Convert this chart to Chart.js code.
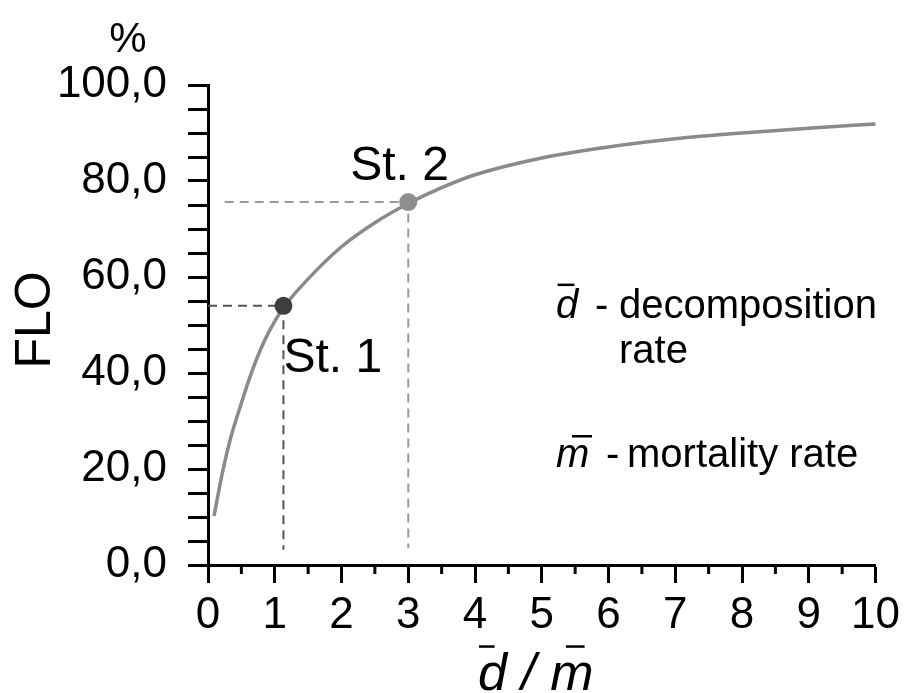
<!DOCTYPE html>
<html>
<head>
<meta charset="utf-8">
<script src="https://cdn.jsdelivr.net/npm/chart.js@4.4.1/dist/chart.umd.min.js"></script>
<style>
  html, body { margin: 0; padding: 0; background: #fff; }
  #wrap { width: 906px; height: 693px; }
</style>
</head>
<body>
<div id="wrap"><canvas id="myChart" width="906" height="693"></canvas></div>
<script>
// FLO curve
var ratio = [0.09, 0.22, 0.34, 0.49, 0.64, 0.79, 0.94, 1.13, 1.5, 2, 2.5, 3, 3.5, 4, 5, 6, 7, 8, 9, 10];
var flo   = [10.2, 19.5, 26.5, 33.3, 39.6, 45.0, 49.3, 53.6, 59.6, 66.3, 71.3, 75.3, 78.6, 81.3, 84.8, 87.1, 88.8, 90.0, 91.0, 91.9];

// the two stations
var stNames = ['St. 1', 'St. 2'];
var stX = [1.13, 3.0];
var stY = [54.0, 75.6];
var guideStartX = [0, 0.25];
var guideEndY = [3.2, 3.5];

var FONT = "'Liberation Sans', Arial, sans-serif";

function pts(xs, ys) {
  return xs.map(function(x, i) { return { x: x, y: ys[i] }; });
}

function guide(i) {
  return [
    { x: guideStartX[i], y: stY[i] },
    { x: stX[i], y: stY[i] },
    { x: stX[i], y: guideEndY[i] }
  ];
}

function fmtY(v) {
  return v.toFixed(1).replace('.', ',');
}

// italic letter with a bar over it; a, b = bar start/end in font sizes from x
function barLetter(ctx, ch, x, base, size, a, b, h) {
  ctx.font = 'italic ' + size + 'px ' + FONT;
  var w = ctx.measureText(ch).width;
  ctx.fillText(ch, x, base);
  ctx.fillRect(x + size * a, base - size * h, size * (b - a), 2.5);
  return w;
}

var extras = {
  id: 'extras',
  afterDraw: function(chart) {
    var ctx = chart.ctx;
    var xs = chart.scales.x, ys = chart.scales.y;
    ctx.save();
    ctx.fillStyle = '#000';
    ctx.strokeStyle = '#000';

    // minor ticks on the x axis
    ctx.lineWidth = 3;
    for (var k = 0.5; k < 10; k += 1) {
      var px = xs.getPixelForValue(k);
      ctx.beginPath();
      ctx.moveTo(px, ys.bottom);
      ctx.lineTo(px, ys.bottom + 9);
      ctx.stroke();
    }

    ctx.textBaseline = 'alphabetic';
    ctx.textAlign = 'center';
    ctx.font = '42px ' + FONT;
    ctx.fillText('%', 128, 52);

    // y title
    ctx.save();
    ctx.translate(50, 320);
    ctx.rotate(-Math.PI / 2);
    ctx.font = '50px ' + FONT;
    ctx.fillText('FLO', 0, 0);
    ctx.restore();

    // x title  d / m
    ctx.textAlign = 'left';
    var bx = 478, bb = 690;
    var w1 = barLetter(ctx, 'd', bx, bb, 52, 0.02, 0.32, 0.86);
    ctx.font = 'italic 52px ' + FONT;
    ctx.fillText(' / ', bx + w1, bb);
    var w2 = ctx.measureText(' / ').width;
    barLetter(ctx, 'm', bx + w1 + w2, bb, 52, 0.3, 0.66, 0.86);

    // station labels
    ctx.font = '48px ' + FONT;
    ctx.fillText(stNames[1], xs.getPixelForValue(stX[1]) - 58, ys.getPixelForValue(stY[1]) - 22);
    ctx.fillText(stNames[0], xs.getPixelForValue(stX[0]), ys.getPixelForValue(stY[0]) + 66);

    // notes
    barLetter(ctx, 'd', 556, 318, 40, 0.04, 0.46, 0.86);
    ctx.font = '40px ' + FONT;
    ctx.fillText('-', 595, 318);
    ctx.fillText('decomposition', 619, 318, 258);
    ctx.fillText('rate', 619, 363);
    barLetter(ctx, 'm', 556, 467, 40, 0.4, 0.9, 0.8);
    ctx.font = '40px ' + FONT;
    ctx.fillText('-', 606, 467);
    ctx.fillText('mortality rate', 627, 467, 236);

    ctx.restore();
  }
};

var myChartObject = document.getElementById('myChart');
var chart = new Chart(myChartObject, {
  type: 'scatter',
  data: {
    datasets: [
      {
        data: [{ x: stX[0], y: stY[0] }],
        pointRadius: 9,
        pointBackgroundColor: '#3e3e3e',
        pointBorderWidth: 0,
        order: 0
      },
      {
        data: [{ x: stX[1], y: stY[1] }],
        pointRadius: 9,
        pointBackgroundColor: '#8e8e8e',
        pointBorderWidth: 0,
        order: 0
      },
      {
        data: pts(ratio, flo),
        showLine: true,
        borderColor: '#8a8a8a',
        borderWidth: 3.5,
        pointRadius: 0,
        cubicInterpolationMode: 'monotone',
        order: 1
      },
      {
        data: guide(0),
        showLine: true,
        borderColor: '#555555',
        borderWidth: 2,
        borderDash: [9, 6],
        pointRadius: 0,
        order: 2
      },
      {
        data: guide(1),
        showLine: true,
        borderColor: '#9a9a9a',
        borderWidth: 2,
        borderDash: [9, 6],
        pointRadius: 0,
        order: 2
      }
    ]
  },
  options: {
    responsive: false,
    animation: false,
    clip: false,
    layout: { autoPadding: false, padding: { left: 0, right: 27, top: 85, bottom: 0 } },
    plugins: { legend: { display: false }, tooltip: { enabled: false } },
    scales: {
      x: {
        type: 'linear',
        min: 0,
        max: 10,
        afterFit: function(s) { s.height = 128; },
        border: { display: true, color: '#000', width: 3 },
        grid: { drawOnChartArea: false, drawTicks: true, tickLength: 18, tickWidth: 3, tickColor: '#000' },
        ticks: {
          stepSize: 1,
          autoSkip: false,
          maxRotation: 0,
          padding: 6,
          color: '#000',
          font: { family: FONT, size: 44 }
        }
      },
      y: {
        min: 0,
        max: 100,
        afterFit: function(s) { s.width = 208; },
        border: { display: true, color: '#000', width: 3 },
        grid: { drawOnChartArea: false, drawTicks: true, tickLength: 20, tickWidth: 3, tickColor: '#000' },
        ticks: {
          stepSize: 5,
          autoSkip: false,
          padding: 21,
          color: '#000',
          font: { family: FONT, size: 44 },
          callback: function(v) { return v % 20 === 0 ? fmtY(v) : ''; }
        }
      }
    }
  },
  plugins: [extras]
});
</script>
</body>
</html>
